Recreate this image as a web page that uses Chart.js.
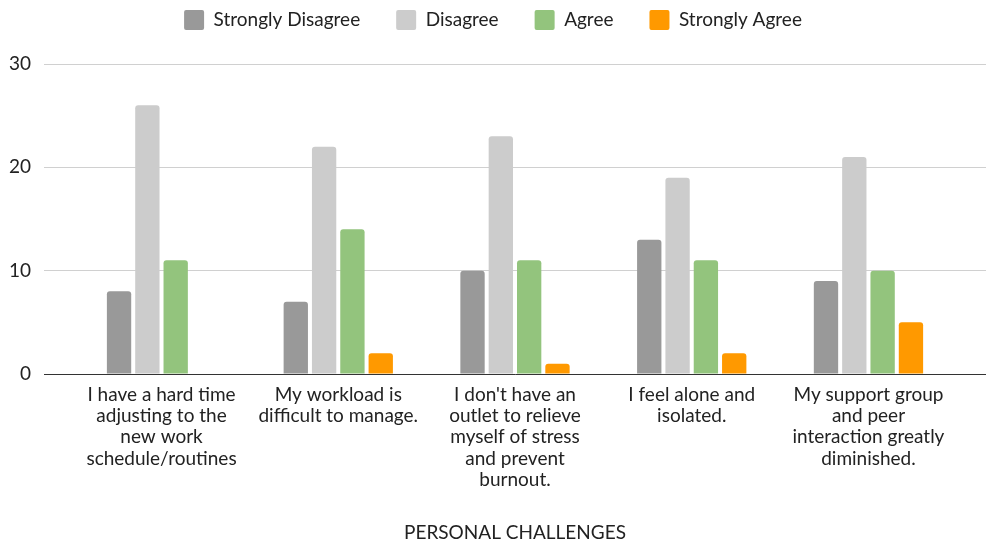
<!DOCTYPE html>
<html>
<head>
<meta charset="utf-8">
<script src="https://cdn.jsdelivr.net/npm/chart.js@4.4.1/dist/chart.umd.min.js"></script>
<style>
  html, body { margin: 0; padding: 0; background: #ffffff; }
  #wrap { width: 986px; height: 544px; position: relative; }
</style>
</head>
<body>
<div id="wrap"><canvas id="c"></canvas></div>
<script>
// ---- data ----
const categories = [
  ["I have a hard time", "adjusting to the", "new work", "schedule/routines"],
  ["My workload is", "difficult to manage."],
  ["I don't have an", "outlet to relieve", "myself of stress", "and prevent", "burnout."],
  ["I feel alone and", "isolated."],
  ["My support group", "and peer", "interaction greatly", "diminished."]
];
const seriesNames = ["Strongly Disagree", "Disagree", "Agree", "Strongly Agree"];
const stronglyDisagree = [8, 7, 10, 13, 9];
const disagree = [26, 22, 23, 19, 21];
const agree = [11, 14, 11, 11, 10];
const stronglyAgree = [0, 2, 1, 2, 5];
const yTicks = [0, 10, 20, 30];
const axisTitle = "PERSONAL CHALLENGES";

const colors = ["#999999", "#cccccc", "#93c47d", "#ff9900"];
const seriesValues = [stronglyDisagree, disagree, agree, stronglyAgree];

const FONT = "Lato";
const LEGEND_PAD = 36;

const legendTweak = {
  id: 'legendTweak',
  beforeLayout(chart) {
    const lg = chart.legend;
    if (lg && !lg._patched) {
      const fit = lg.fit.bind(lg);
      lg.fit = function () { fit(); this.height = 64; };
      lg._patched = true;
    }
  },
  afterLayout(chart) {
    if (chart.legend) chart.legend.top = 10 - LEGEND_PAD;
  }
};

const datasets = seriesNames.map((name, i) => ({
  label: name,
  data: seriesValues[i].map((v, j) => ({ x: j, y: v })),
  backgroundColor: colors[i],
  borderWidth: 0,
  borderRadius: { topLeft: 3, topRight: 3, bottomLeft: 0, bottomRight: 0 },
  borderSkipped: false,
  categoryPercentage: 0.641,
  barPercentage: 0.859
}));

new Chart(document.getElementById('c'), {
  type: 'bar',
  data: { datasets },
  plugins: [legendTweak],
  options: {
    responsive: true,
    maintainAspectRatio: false,
    animation: false,
    devicePixelRatio: 1,
    layout: { padding: 0 },
    font: { family: FONT },
    plugins: {
      tooltip: { enabled: false },
      legend: {
        position: 'top',
        align: 'center',
        labels: {
          boxWidth: 20,
          boxHeight: 20,
          padding: LEGEND_PAD,
          color: '#222222',
          font: { family: FONT, size: 19 },
          useBorderRadius: true,
          borderRadius: 2
        }
      }
    },
    scales: {
      x: {
        type: 'linear',
        min: -0.665,
        max: 4.665,
        offset: false,
        grid: { display: false, drawTicks: false },
        border: { display: true, color: '#333333', width: 1 },
        ticks: {
          stepSize: 1,
          includeBounds: false,
          autoSkip: false,
          maxRotation: 0,
          minRotation: 0,
          padding: 10,
          color: '#222222',
          font: { family: FONT, size: 19, lineHeight: 1.12 },
          callback: (v) => Number.isInteger(v) && categories[v] ? categories[v] : ''
        },
        title: {
          display: true,
          text: axisTitle,
          color: '#222222',
          font: { family: FONT, size: 19 },
          padding: { top: 0, bottom: 0 }
        },
        afterFit(scale) { scale.height = 170; }
      },
      y: {
        min: yTicks[0],
        max: yTicks[yTicks.length - 1],
        grid: { color: '#d0d0d0', lineWidth: 1, drawTicks: false },
        border: { display: false },
        ticks: {
          stepSize: 10,
          padding: 13,
          color: '#222222',
          font: { family: FONT, size: 19 }
        },
        afterFit(scale) { scale.width = 44; }
      }
    }
  }
});
</script>
</body>
</html>
